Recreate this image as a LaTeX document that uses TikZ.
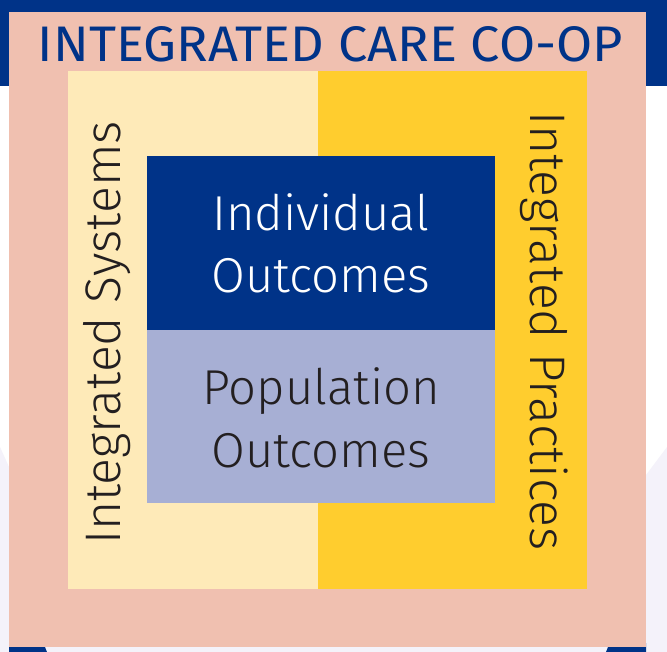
\documentclass[tikz,border=0pt]{standalone}
\usepackage{fontspec}
\setmainfont{Fira Sans}
\newfontfamily\lightfont{Fira Sans Light}
\definecolor{navy}{RGB}{0,51,136}
\definecolor{salmon}{RGB}{240,192,176}
\definecolor{cream}{RGB}{254,234,184}
\definecolor{gold}{RGB}{255,205,46}
\definecolor{lilac}{RGB}{167,175,212}
\definecolor{mist}{RGB}{244,242,250}
\definecolor{ink}{RGB}{35,31,32}
\begin{document}
\begin{tikzpicture}[x=1pt,y=-1pt,
  panel/.style={draw=none, inner sep=0pt, outer sep=0pt, anchor=north west},
  bigtext/.style={inner sep=0pt, anchor=base, font=\lightfont\fontsize{49}{60}\selectfont},
  sidetext/.style={inner sep=0pt, anchor=base, text=ink, font=\lightfont\fontsize{50}{60}\selectfont}]
\useasboundingbox (0,0) rectangle (667,652);
% page background
\fill[white] (0,0) rectangle (667,652);
\fill[mist] (0,447) -- (9,467) -- (9,652) -- (0,652) -- cycle;
\fill[mist] (667,447) -- (646,475) -- (646,652) -- (667,652) -- cycle;
\fill[mist] (0,647) rectangle (667,652);
\fill[navy] (0,0) rectangle (667,86);
\fill[navy] (9,643) -- (45,647) -- (47,652) -- (9,652) -- cycle;
\fill[navy] (646,643) -- (608,647) -- (606,652) -- (646,652) -- cycle;
% outer frame and its two halves
\node[panel, fill=salmon, minimum width=637pt, minimum height=635pt] (frame) at (9,12) {};
\node[panel, fill=cream, minimum width=250pt, minimum height=518pt] (sysbg) at (68,71) {};
\node[panel, fill=gold, minimum width=269pt, minimum height=518pt] (pracbg) at (318,71) {};
% central outcome boxes
\node[panel, fill=navy, minimum width=348pt, minimum height=174pt] (indiv) at (147,156) {};
\node[panel, fill=lilac, minimum width=348pt, minimum height=173pt] (popul) at (147,330) {};
% labels
\node[anchor=base, inner sep=0pt, text=navy] (title) at (330.5,62)
  {\resizebox{585pt}{35pt}{INTEGRATED CARE CO-OP}};
\node[bigtext, text=white] (indiv1) at (321,231) {Individual};
\node[bigtext, text=white] (indiv2) at (321,293) {Outcomes};
\node[bigtext, text=ink] (popul1) at (321,405) {Population};
\node[bigtext, text=ink] (popul2) at (321,467) {Outcomes};
\node[sidetext, rotate=90] (systems) at (120,333) {Integrated Systems};
\node[sidetext, rotate=-90] (practices) at (530,331) {Integrated Practices};
\end{tikzpicture}
\end{document}
